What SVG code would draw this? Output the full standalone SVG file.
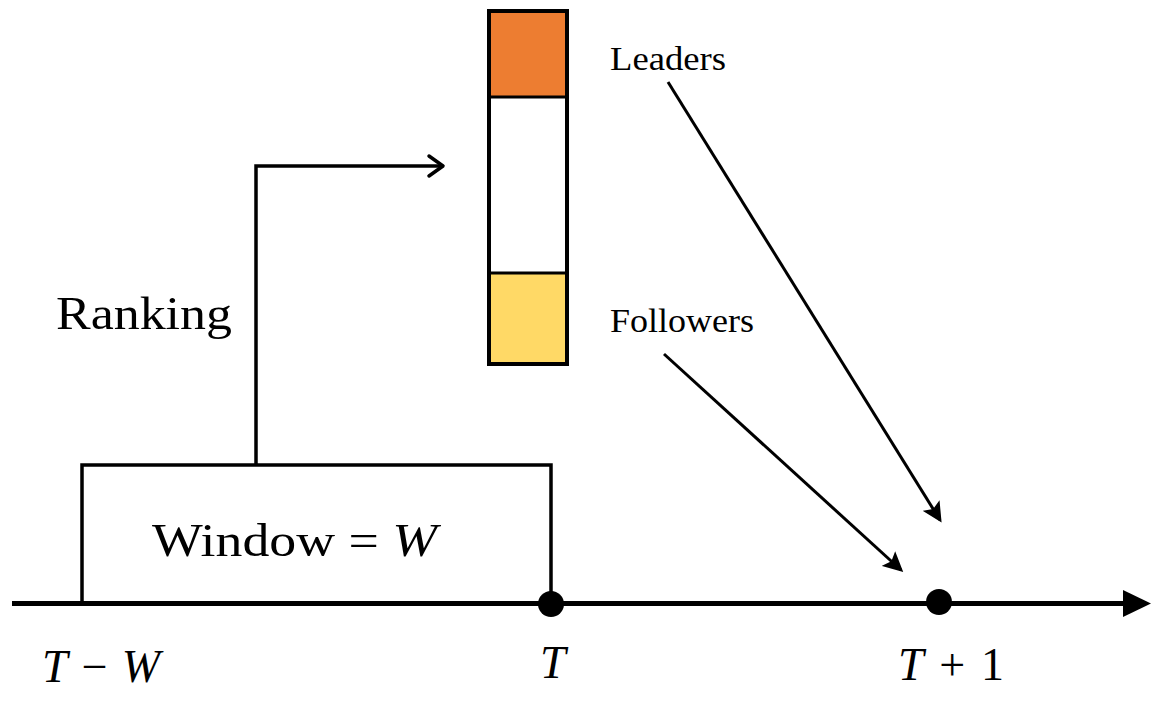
<svg xmlns="http://www.w3.org/2000/svg" width="1173" height="706" viewBox="0 0 1173 706">
<defs>
<style>
.t{font-family:"Liberation Serif","DejaVu Serif",serif;fill:#000}
.i{font-style:italic}
.ln{stroke:#000;fill:none;stroke-width:3.5}
</style>
<marker id="ah2" markerWidth="20" markerHeight="20" refX="17" refY="10" orient="auto" markerUnits="userSpaceOnUse" viewBox="0 0 20 20">
<path d="M0,0 L20,10 L0,20 L4,10 Z" fill="#000"/>
</marker>
</defs>
<rect width="1173" height="706" fill="#fff"/>
<g id="axis">
<line x1="12" y1="603.5" x2="1126" y2="603.5" stroke="#000" stroke-width="5"/>
<polygon points="1123,590 1151,603.5 1123,617" fill="#000"/>
</g>
<g id="window">
<polyline class="ln" points="82,603 82,465 551,465 551,603"/>
<text class="t" x="152" y="556" font-size="46" textLength="285" lengthAdjust="spacingAndGlyphs">Window = <tspan class="i">W</tspan></text>
</g>
<g id="rankbar">
<rect x="489" y="11" width="78" height="86" fill="#ED7D31"/>
<rect x="489" y="97" width="78" height="176" fill="#fff"/>
<rect x="489" y="273" width="78" height="91" fill="#FFD966"/>
<rect x="489" y="11" width="78" height="353" fill="none" stroke="#000" stroke-width="4"/>
<line x1="489" y1="97" x2="567" y2="97" stroke="#000" stroke-width="3"/>
<line x1="489" y1="273" x2="567" y2="273" stroke="#000" stroke-width="3"/>
</g>
<g id="labels">
<text class="t" x="56" y="329" font-size="46" textLength="176" lengthAdjust="spacingAndGlyphs">Ranking</text>
<text class="t" x="610" y="70" font-size="33" textLength="116" lengthAdjust="spacingAndGlyphs">Leaders</text>
<text class="t" x="610" y="332" font-size="33" textLength="144" lengthAdjust="spacingAndGlyphs">Followers</text>
<text class="t" x="42" y="682" font-size="46" textLength="118" lengthAdjust="spacing"><tspan class="i">T</tspan> − <tspan class="i">W</tspan></text>
<text class="t i" x="540" y="678" font-size="46">T</text>
<text class="t" x="898" y="680" font-size="46" textLength="106" lengthAdjust="spacing"><tspan class="i">T</tspan> + 1</text>
</g>
<g id="points">
<circle cx="551" cy="604" r="13" fill="#000"/>
<circle cx="939" cy="602" r="13" fill="#000"/>
</g>
<g id="connectors">
<polyline class="ln" points="256,465 256,166 443,166"/>
<polyline class="ln" points="429,156 443,166 429,176" stroke-linecap="round" stroke-linejoin="round"/>
<line x1="668" y1="82" x2="940" y2="520" stroke="#000" stroke-width="3" marker-end="url(#ah2)"/>
<line x1="664" y1="354" x2="901" y2="570" stroke="#000" stroke-width="3" marker-end="url(#ah2)"/>
</g>
</svg>
